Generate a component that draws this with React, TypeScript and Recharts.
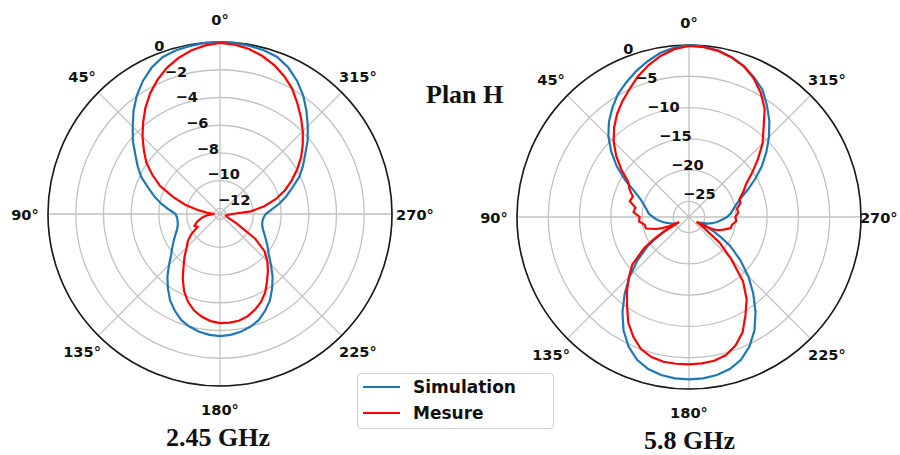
import React from 'react'
import { RadarChart, Radar, PolarGrid, PolarAngleAxis, PolarRadiusAxis } from 'recharts'

// angle in degrees, counter-clockwise from the top (0° up, 90° left)
const anglesLow = [
  0, 5, 10, 15, 20, 25, 30, 35, 40, 45, 50, 55, 60, 65, 70, 75, 80, 85,
  90, 95, 100, 105, 110, 115, 120, 125, 130, 135, 140, 145, 150, 155, 160, 165, 170, 175,
  180, 185, 190, 195, 200, 205, 210, 215, 220, 225, 230, 235, 240, 245, 250, 255, 260, 265,
  270, 275, 280, 285, 290, 295, 300, 305, 310, 315, 320, 325, 330, 335, 340, 345, 350, 355,
]
// 2.45 GHz, dB
const simLow = [
  0, -0.02, -0.09, -0.18, -0.35, -0.75, -1.3, -1.95, -2.7, -3.5, -4.2, -4.95, -5.55, -6.15, -6.9, -7.5, -8.1, -8.7,
  -9.2, -9.3, -9.3, -9.25, -9.1, -8.85, -8.55, -8.2, -7.8, -7.2, -6.5, -5.85, -5.2, -4.7, -4.25, -3.98, -3.78, -3.65,
  -3.6, -3.65, -3.78, -3.98, -4.25, -4.7, -5.2, -5.85, -6.5, -7.2, -7.8, -8.2, -8.55, -8.85, -9.1, -9.25, -9.3, -9.25,
  -9.1, -8.65, -8.05, -7.45, -6.85, -6.1, -5.5, -4.9, -4.15, -3.45, -2.7, -1.95, -1.3, -0.75, -0.35, -0.18, -0.09, -0.02,
]
const mesLow = [
  -0.07, -0.2, -0.43, -0.76, -1.19, -1.73, -2.34, -3.03, -3.78, -4.5, -5.23, -5.91, -6.78, -7.64, -8.8, -9.8, -10.81, -11.53,
  -12.0, -11.53, -11.17, -10.89, -10.6, -10.38, -10.53, -9.88, -9.37, -9.01, -8.43, -7.82, -7.03, -6.27, -5.66, -5.19, -4.87, -4.65,
  -4.54, -4.54, -4.58, -4.76, -5.05, -5.41, -5.88, -6.49, -7.03, -7.57, -8.2, -9.3, -11.0, -11.7, -11.9, -11.95, -11.9, -11.8,
  -11.53, -10.17, -9.16, -8.22, -7.43, -6.7, -5.98, -5.26, -4.61, -3.96, -3.32, -2.67, -1.98, -1.44, -0.97, -0.61, -0.32, -0.14,
]

const anglesHigh = [
  0, 5, 10, 15, 20, 25, 30, 35, 40, 45, 50, 55, 60, 65, 70, 75, 80, 85, 90, 95, 100, 105, 110,
  112.5, 115, 117.5, 120, 122.5, 125,
  130, 135, 140, 145, 150, 155, 160, 165, 170, 175, 180, 185, 190, 195, 200, 205, 210, 215, 220, 225, 230,
  235, 237.5, 240, 242.5, 245, 247.5, 250,
  255, 260, 265, 270, 275, 280, 285, 290, 295, 300, 305, 310, 315, 320, 325, 330, 335, 340, 345, 350, 355,
]
// 5.8 GHz, dB
const simHigh = [
  0, -0.32, -0.88, -1.76, -2.72, -3.76, -4.8, -6.16, -7.59, -9.27, -11.27, -13.43, -15.75, -17.91, -19.27, -20.07, -20.62, -21.02, -21.74, -22.38, -23.1, -23.82, -24.46,
  -24.78, -25.02, -24.78, -23.18, -21.42, -19.51,
  -16.79, -14.07, -11.51, -8.95, -6.56, -4.64, -3.2, -2.32, -1.84, -1.6, -1.55, -1.6, -1.84, -2.32, -3.2, -4.64, -6.56, -8.95, -11.51, -14.07, -16.79,
  -19.51, -21.42, -23.18, -24.78, -25.26, -24.94, -24.38,
  -23.66, -22.94, -22.22, -21.42, -20.78, -20.3, -19.67, -18.71, -17.11, -15.27, -13.27, -11.35, -9.43, -7.51, -5.76, -4.0, -2.88, -1.84, -1.04, -0.48, -0.16,
]
const mesHigh = [
  -0.16, -0.56, -1.36, -2.4, -3.6, -4.96, -6.16, -7.43, -8.87, -10.47, -12.31, -14.31, -16.31, -17.0, -17.95, -17.7, -18.8, -18.6, -19.6, -19.5, -20.3, -20.39, -21.9,
  -22.86, -23.98, -25.74, -23.02, -20.63, -18.7,
  -15.67, -13.91, -12.07, -10.23, -8.07, -6.4, -5.04, -4.32, -4.0, -3.95, -3.95, -4.0, -4.16, -4.64, -5.68, -7.2, -9.43, -11.43, -14.07, -17.91, -21.1,
  -24.94, -26.06, -24.78, -23.34, -22.54, -22.06, -21.58,
  -20.6, -20.5, -19.9, -20.1, -19.6, -19.7, -19.0, -18.9, -17.9, -16.95, -15.19, -13.11, -10.87, -8.95, -6.4, -4.56, -3.04, -1.84, -1.12, -0.56, -0.24,
]

const angleTicks = [0, 45, 90, 135, 180, 225, 270, 315]
const radiusTicksLow = [-12, -10, -8, -6, -4, -2, 0]
const radiusTicksHigh = [-25, -20, -15, -10, -5, 0]

const series = [
  { key: 'sim', name: 'Simulation', color: '#1f77b4' },
  { key: 'mes', name: 'Mesure', color: '#ff0000' },
]

const dataLow = anglesLow.map((a, i) => ({ angle: a, sim: simLow[i], mes: mesLow[i] }))
const dataHigh = anglesHigh.map((a, i) => ({ angle: a, sim: simHigh[i], mes: mesHigh[i] }))

const R = 172
const tickFont = { fontFamily: '"DejaVu Sans", sans-serif', fontWeight: 700, fontSize: 14.6 }

const AngleTick = (props: any) => {
  const { y, payload, maxRight } = props
  const label = `${payload.value}°`
  const half = label.length * 4.8
  // keep the label inside the picture
  const x = maxRight && props.x + half > maxRight ? maxRight - half : props.x
  return (
    <text x={x} y={y} textAnchor="middle" dominantBaseline="central" fill="#111" {...tickFont}>
      {label}
    </text>
  )
}

const RadiusTick = (props: any) => {
  const { x, y, payload } = props
  const v = payload.value
  return (
    <text x={x} y={y - 9.4} textAnchor="start" dominantBaseline="central" fill="#111" {...tickFont}>
      {v < 0 ? `\u2212${-v}` : v}
    </text>
  )
}

const titleStyle = { fontFamily: '"Liberation Serif", "Times New Roman", serif', fontWeight: 700, fontSize: 26, fill: '#111' }

const PolarPlot = ({ data, width, cx, cy, domain, rTicks, maxRight, children }: any) => (
  <RadarChart
    width={width}
    height={455}
    data={data}
    cx={cx}
    cy={cy}
    outerRadius={R}
    startAngle={90}
    endAngle={450}
    margin={{ top: 0, right: 0, bottom: 0, left: 0 }}
  >
    <PolarGrid gridType="circle" stroke="#c2c2c2" strokeWidth={1.3} />
    <PolarGrid gridType="circle" polarRadius={[R]} polarAngles={[]} radialLines={false} stroke="#1a1a1a" strokeWidth={1.6} />
    <PolarAngleAxis
      dataKey="angle"
      type="number"
      domain={[0, 360]}
      ticks={angleTicks}
      tick={<AngleTick maxRight={maxRight} />}
      tickLine={false}
      axisLine={false}
      tickSize={23}
    />
    <PolarRadiusAxis
      type="number"
      angle={112.5}
      domain={domain}
      ticks={rTicks}
      allowDataOverflow
      axisLine={false}
      tick={<RadiusTick />}
    />
    {series.map((s) => (
      <Radar
        key={s.key}
        dataKey={s.key}
        name={s.name}
        stroke={s.color}
        strokeWidth={2.2}
        fill="none"
        fillOpacity={0}
        dot={false}
        isAnimationActive={false}
      />
    ))}
    {children}
  </RadarChart>
)

export default function App() {
  return (
    <div style={{ position: 'absolute', left: 0, top: 0, width: 900, height: 455, background: '#fff', overflow: 'hidden' }}>
      <div style={{ position: 'absolute', left: 0, top: 0 }}>
        <PolarPlot data={dataLow} width={520} cx={220} cy={214} domain={[-12.4, 0]} rTicks={radiusTicksLow}>
          <text x={218} y={446} textAnchor="middle" style={titleStyle}>2.45 GHz</text>
          <text x={426} y={103} textAnchor="start" style={titleStyle}>Plan H</text>
        </PolarPlot>
      </div>
      <div style={{ position: 'absolute', left: 450, top: 0 }}>
        <PolarPlot data={dataHigh} width={450} cx={239} cy={217} domain={[-27.5, 0]} rTicks={radiusTicksHigh} maxRight={448}>
          <text x={239.5} y={449} textAnchor="middle" style={titleStyle}>5.8 GHz</text>
        </PolarPlot>
      </div>
      <div
        style={{
          position: 'absolute', left: 357, top: 373, width: 197, height: 56,
          border: '1px solid #d0d0d0', borderRadius: 4, background: '#fff', boxSizing: 'border-box',
        }}
      >
        {series.map((s, i) => (
          <div key={s.key} style={{ position: 'absolute', left: 5, top: 1 + i * 26, height: 24, display: 'flex', alignItems: 'center' }}>
            <span style={{ display: 'inline-block', width: 37, height: 2.4, background: s.color }} />
            <span style={{ marginLeft: 13, fontFamily: '"DejaVu Sans", sans-serif', fontWeight: 700, fontSize: 17, color: '#111' }}>
              {s.name}
            </span>
          </div>
        ))}
      </div>
    </div>
  )
}
